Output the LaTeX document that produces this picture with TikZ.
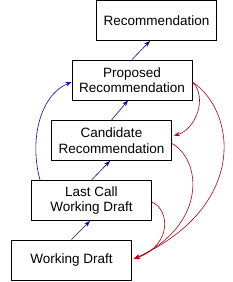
\documentclass[tikz,border=0pt]{standalone}
\usepackage{fontspec}
\setmainfont{Liberation Sans}
\usetikzlibrary{arrows.meta,calc}
\definecolor{pblue}{RGB}{10,10,170}
\definecolor{pred}{RGB}{185,0,20}
\begin{document}
\begin{tikzpicture}[x=1pt,y=1pt,
  stage/.style={draw=black,line width=0.9pt,minimum width=120pt,minimum height=40pt,align=center,inner sep=0pt,font=\fontsize{13.5}{15.5}\selectfont},
  up/.style={draw=pblue,line width=0.6pt,-{Stealth[length=6pt,width=4.5pt]}},
  back/.style={draw=pred,line width=0.6pt,-{Stealth[length=6pt,width=4.5pt]}}]
\useasboundingbox (0,0) rectangle (233,-282);
\node[stage] (rec) at (156.5,-20.5) {Recommendation};
\node[stage] (pr) at (132,-80) {Proposed\\Recommendation};
\node[stage] (cr) at (111.5,-140.5) {Candidate\\Recommendation};
\node[stage] (lc) at (91.5,-200.5) {Last Call\\Working Draft};
\node[stage] (wd) at (71.5,-260) {Working Draft};
\draw[up] (pr.north) -- ($(rec.south)+(-6.5,0)$);
\draw[up] (cr.north) -- ($(pr.south)+(-4,0)$);
\draw[up] (lc.north) -- ($(cr.south)+(-1.5,0)$);
\draw[up] (wd.north) -- ($(lc.south)+(-1.5,0)$);
\draw[up] ($(lc.north west)+(9,0)$) .. controls (29,-140) and (40,-95) .. ($(pr.west)+(0,-2)$);
\coordinate (prr) at ($(pr.east)+(0,-2)$);
\coordinate (wdr) at ($(wd.east)+(2,1)$);
\draw[back] (prr) to[out=-45,in=15] ($(cr.east)+(2,5)$);
\draw[back] (prr) .. controls (235,-110) and (250,-205) .. (wdr);
\draw[back] ($(cr.east)+(0,-3)$) .. controls (202,-160) and (207,-225) .. (wdr);
\draw[back] ($(lc.east)+(0,-1.5)$) .. controls (170,-210) and (172,-245) .. (wdr);
\end{tikzpicture}
\end{document}
